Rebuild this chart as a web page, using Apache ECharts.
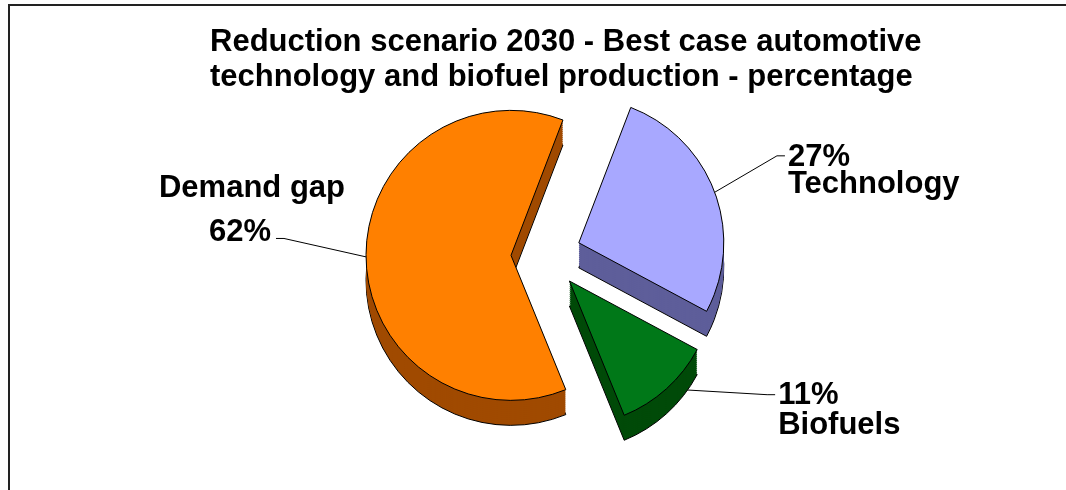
<!DOCTYPE html>
<html>
<head>
<meta charset="utf-8">
<title>Reduction scenario 2030</title>
<script src="https://cdn.jsdelivr.net/npm/echarts@6/dist/echarts.min.js"></script>
<style>
    html, body { margin: 0; padding: 0; background: #fff; }
    #main { width: 1066px; height: 490px; }
</style>
</head>
<body>
<div id="main"></div>
<script>
// data
var categories = ['Technology', 'Biofuels', 'Demand gap'];
var shares = [27, 11, 62];
var topColors = ['#A8A8FF', '#007818', '#FF8000'];
var sideColors = ['#5E5E9A', '#004A08', '#A04A00'];

// layout
var cx = 546, cy = 255, radius = 145, depth = 25;
// leader line lengths and label shifts per slice
var lineLen = [[60, 10], [10, 100], [8, 8]];
var labelShift = [[2, 0], [0, 14], [0, -47]];
var lineHeights = [27, 30, 44];
var font = '"Liberation Sans", Arial, sans-serif';

function tokenStyle(lineHeight, align, padding) {
    return {
        fontFamily: font,
        fontWeight: 'bold',
        fontSize: 31,
        lineHeight: lineHeight,
        color: '#000',
        align: align,
        padding: padding || 0
    };
}

function pieData(colors, bordered) {
    return categories.map(function (name, i) {
        return {
            name: name,
            value: shares[i],
            selected: true,
            itemStyle: {
                color: colors[i],
                borderColor: bordered ? '#000' : colors[i],
                borderWidth: bordered ? 1 : 0
            },
            labelLine: { length: lineLen[i][0], length2: lineLen[i][1] }
        };
    });
}

function sideSeries(dy, bordered) {
    return {
        type: 'pie',
        silent: true,
        animation: false,
        center: [cx, cy + dy],
        radius: radius,
        startAngle: 69,
        clockwise: true,
        selectedMode: 'multiple',
        selectedOffset: 35,
        label: { show: false },
        labelLine: { show: false },
        emphasis: { disabled: true },
        data: pieData(sideColors, bordered)
    };
}

var series = [];
for (var d = depth; d > 0; d -= 2) {
    series.push(sideSeries(d, d === depth));
}

series.push({
    type: 'pie',
    animation: false,
    center: [cx, cy],
    radius: radius,
    startAngle: 69,
    clockwise: true,
    selectedMode: 'multiple',
    selectedOffset: 35,
    percentPrecision: 0,
    avoidLabelOverlap: false,
    emphasis: { disabled: true },
    label: {
        show: true,
        formatter: function (p) {
            if (p.name === 'Demand gap') {
                return '{dg|' + p.name + '}\n{dgp|' + p.percent + '%}';
            }
            var key = p.name === 'Technology' ? 'tech' : 'bio';
            return '{' + key + '|' + p.percent + '%}\n{' + key + '|' + p.name + '}';
        },
        rich: {
            dg: tokenStyle(lineHeights[2], 'center'),
            dgp: tokenStyle(lineHeights[2], 'center', [0, 24, 0, 0]),
            tech: tokenStyle(lineHeights[0], 'left'),
            bio: tokenStyle(lineHeights[1], 'left')
        }
    },
    labelLine: {
        show: true,
        lineStyle: { color: '#000', width: 1 }
    },
    labelLayout: function (params) {
        var i = params.dataIndex;
        var s = labelShift[i];
        var res = { dx: s[0], dy: s[1] };
        var pts = params.labelLinePoints;
        var r = params.labelRect;
        if (pts && r) {
            var end, mid;
            if (i === 2) {
                // leader goes to the right of the "62%" line
                end = [r.x + r.width / 2 + s[0] + 24, r.y + s[1] + lineHeights[i] * 1.5];
                mid = [end[0] + 8, end[1]];
            } else {
                // leader goes to the left of the first (percent) line
                end = [r.x + s[0] - 3, r.y + s[1] + lineHeights[i] / 2];
                mid = [end[0] - 8, end[1]];
            }
            res.labelLinePoints = [pts[0], mid, end];
        }
        return res;
    },
    data: pieData(topColors, true)
});

var option = {
    backgroundColor: '#fff',
    title: {
        text: 'Reduction scenario 2030 - Best case automotive\ntechnology and biofuel production - percentage',
        left: 205,
        top: 20,
        textStyle: {
            fontFamily: font,
            fontWeight: 'bold',
            fontSize: 31,
            lineHeight: 35,
            color: '#000'
        }
    },
    graphic: [{
        type: 'rect',
        silent: true,
        shape: { x: 9, y: 5, width: 1100, height: 600 },
        style: { fill: 'none', stroke: '#222', lineWidth: 2 }
    }],
    series: series
};

var myChart = echarts.init(document.querySelector('#main'));
myChart.setOption(option);
</script>
</body>
</html>
